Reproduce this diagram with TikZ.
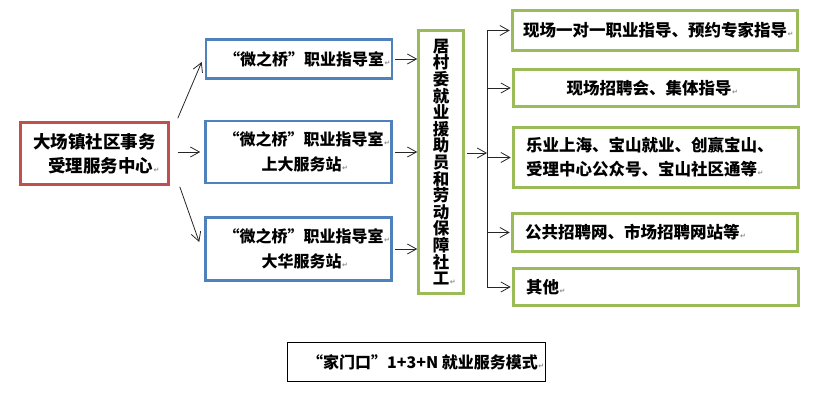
\documentclass[tikz,border=0pt]{standalone}
\usepackage{fontspec}
\setmainfont{Noto Sans CJK SC}
\newfontfamily\dejavu{DejaVu Sans}
\usetikzlibrary{arrows.meta,calc}
\definecolor{boxred}{HTML}{C0504D}
\definecolor{boxblue}{HTML}{4F81BD}
\definecolor{boxgreen}{HTML}{9BBB59}
\newcommand\parmark{\rlap{\kern0.5pt\textcolor{black!45}{\dejavu\fontsize{7}{7}\selectfont ↵}}}
\begin{document}
\begin{tikzpicture}[x=1pt,y=-1pt,
  >={Straight Barb[length=9pt,width=10pt]},
  box/.style={draw, line width=2.6pt, inner sep=0pt, align=center,
    font=\bfseries\fontsize{16}{25}\selectfont},
  redbox/.style={box, draw=boxred, minimum width=148pt, minimum height=62pt,
    font=\bfseries\fontsize{17.5}{24}\selectfont},
  bluebox/.style={box, draw=boxblue, minimum width=186pt},
  greenbox/.style={box, draw=boxgreen, font=\bfseries\fontsize{16.5}{24}\selectfont},
  rbox/.style={greenbox, minimum width=285pt},
  lbox/.style={rbox, text width=260pt, align=left},
  titlebox/.style={draw=black, line width=1.1pt, inner sep=0pt, minimum width=258pt,
    minimum height=39pt, font=\bfseries\fontsize{16}{20}\selectfont},
  arr/.style={->, line width=0.8pt, draw=black!85},
  bus/.style={line width=0.8pt, draw=black!85}]
\useasboundingbox (0,0) rectangle (834,409);

% left column
\node[redbox] (center) at (94.5,153.5) {大场镇社区事务\\\hspace*{12pt}受理服务中心\parmark};
\node[bluebox, minimum height=39pt] (b1) at (299,59) {\hspace*{10pt}“微之桥”职业指导室\parmark};
\node[bluebox, minimum height=62pt] (b2) at (298.5,152) {\hspace*{10pt}“微之桥”职业指导室\parmark\\\hspace*{6pt}上大服务站\parmark};
\node[bluebox, minimum height=63pt] (b3) at (298.5,249) {\hspace*{10pt}“微之桥”职业指导室\parmark\\\hspace*{6pt}大华服务站\parmark};

% vertical box
\node[greenbox, minimum width=45pt, minimum height=263pt,
  font=\bfseries\fontsize{16.5}{16.6}\selectfont] (v) at (441,162)
  {居\\村\\委\\就\\业\\援\\助\\员\\和\\劳\\动\\保\\障\\社\\工\parmark};

% right column
\node[rbox, minimum height=40pt] (r1) at (655,30.5) {现场一对一职业指导、预约专家指导\parmark};
\node[rbox, minimum height=37pt] (r2) at (656,88) {现场招聘会、集体指导\parmark\hspace*{14pt}};
\node[lbox, minimum height=60pt] (r3) at (656,157.5) {乐业上海、宝山就业、创赢宝山、\\受理中心公众号、宝山社区通等\parmark};
\node[lbox, minimum height=38pt] (r4) at (655,232.5) {公共招聘网、市场招聘网站等\parmark};
\node[lbox, minimum height=37pt] (r5) at (656,287) {其他\parmark};

% title
\node[titlebox] (title) at (416.5,362) {\hspace*{12pt}“家门口”1+3+N 就业服务模式\parmark};

% connectors from the centre
\draw[arr] ($(center.north east)+(8,-3)$) -- ($(b1.west)+(-3,3)$);
\draw[arr] ($(center.east |- b2.west)+(8,0)$) -- ($(b2.west)+(-4,0)$);
\draw[arr] ($(center.south east)+(10,1)$) -- ($(b3.west)+(-5,-7)$);

% blue to green
\foreach \b in {b1,b2,b3}
  \draw[arr] ($(\b.east)+(2,0)$) -- (\b.east -| v.west);

% green to the right column
\coordinate (hub) at (487,153);
\draw[arr] ($(v.east |- hub)+(2,0)$) -- (hub);
\draw[bus] (hub |- r1.west) -- (hub |- r5.west);
\foreach \r in {r1,r2,r3,r4,r5}
  \draw[arr] (hub |- \r.west) -- ($(\r.west)+(-1.5,0)$);
\end{tikzpicture}
\end{document}
